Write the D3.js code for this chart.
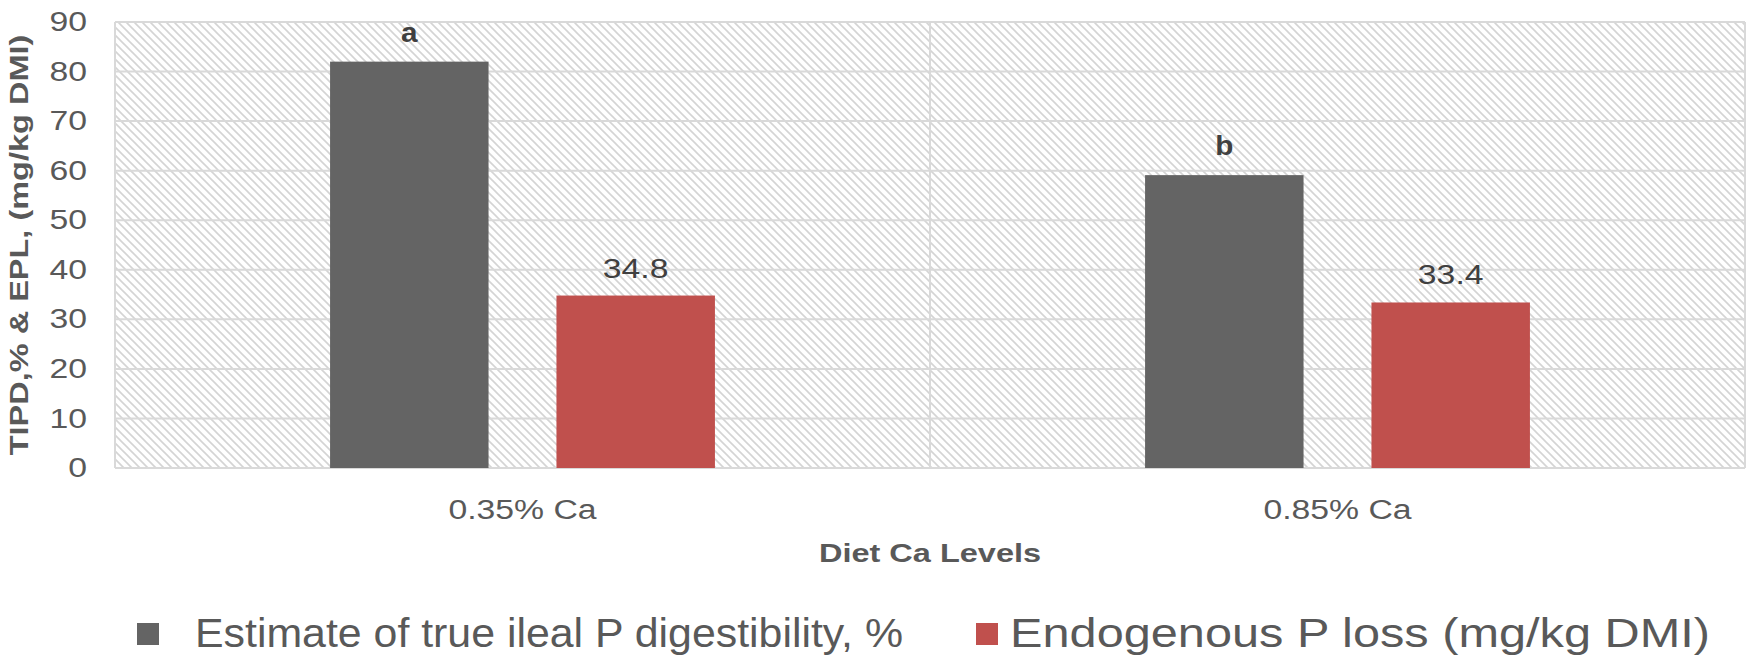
<!DOCTYPE html>
<html lang="en">
<head>
<meta charset="utf-8">
<title>TIPD and EPL by diet Ca level</title>
<script src="https://d3js.org/d3.v7.min.js"></script>
<style>
  body{margin:0;background:#fff;font-family:"Liberation Sans",Arial,sans-serif;}
  svg text{fill:#595959;}
</style>
</head>
<body>
<div id="chart"></div>
<script>
// data
var categories = ["0.35% Ca", "0.85% Ca"];
var seriesNames = ["Estimate of true ileal P digestibility, %", "Endogenous P loss (mg/kg DMI)"];
var tipd = [82.0, 59.1];
var epl = [34.8, 33.4];
var tipdLabels = ["a", "b"];
var eplLabels = ["34.8", "33.4"];
var yTicks = [0, 10, 20, 30, 40, 50, 60, 70, 80, 90];
var colors = ["#646464", "#c0504d"];

var W = 1750, H = 656;
var plotLeft = 115, plotRight = 1745, plotTop = 22, plotBottom = 468;
var stretch = 1.25; // text in the source is drawn wider than Arial

var svg = d3.select("#chart").append("svg")
    .attr("width", W).attr("height", H);

// hatch fill of the plot area
var defs = svg.append("defs");
var pat = defs.append("pattern")
    .attr("id", "hatch")
    .attr("patternUnits", "userSpaceOnUse")
    .attr("width", 8).attr("height", 8);
pat.append("rect").attr("width", 8).attr("height", 8).attr("fill", "#fff");
pat.append("path")
    .attr("d", "M-2,-2 L10,10 M-2,6 L2,10 M6,-2 L10,2")
    .attr("stroke", "#d4d4d4")
    .attr("stroke-width", 1.6);

var y = d3.scaleLinear().domain([0, 90]).range([plotBottom, plotTop]);
var x0 = d3.scaleBand().domain(categories).range([plotLeft, plotRight]);
var x1 = d3.scaleBand().domain([0, 1]).range([0, x0.bandwidth()])
    .paddingInner(0.3).paddingOuter(0.95);

svg.append("rect")
    .attr("x", plotLeft).attr("y", plotTop)
    .attr("width", plotRight - plotLeft).attr("height", plotBottom - plotTop)
    .attr("fill", "url(#hatch)");

// gridlines
svg.append("g").selectAll("line")
    .data(yTicks)
    .enter().append("line")
    .attr("x1", plotLeft).attr("x2", plotRight)
    .attr("y1", function(d){ return y(d); })
    .attr("y2", function(d){ return y(d); })
    .attr("stroke", "#d9d9d9").attr("stroke-width", 2);

var bounds = categories.map(function(c){ return x0(c); }).concat([x0(categories[1]) + x0.bandwidth()]);
svg.append("g").selectAll("line")
    .data(bounds)
    .enter().append("line")
    .attr("x1", function(d){ return d; }).attr("x2", function(d){ return d; })
    .attr("y1", plotTop).attr("y2", plotBottom)
    .attr("stroke", "#d9d9d9").attr("stroke-width", 2);

// widen a text horizontally around its anchor point
function widen(sel, k){
    sel.each(function(){
        var t = d3.select(this);
        var x = +t.attr("x") || 0;
        t.attr("x", x / k).attr("transform", "scale(" + k + ",1)");
    });
}

// y axis
var yAxis = d3.axisLeft(y).tickValues(yTicks).tickSize(0).tickPadding(28);
var gy = svg.append("g")
    .attr("transform", "translate(" + plotLeft + ",0)")
    .call(yAxis);
gy.select(".domain").remove();
gy.selectAll("text")
    .style("font-family", "Liberation Sans, Arial, sans-serif")
    .style("font-size", "27px")
    .attr("fill", "#595959")
    .call(widen, stretch);

// x axis
var xAxis = d3.axisBottom(x0).tickSize(0).tickPadding(32);
var gx = svg.append("g")
    .attr("transform", "translate(0," + plotBottom + ")")
    .call(xAxis);
gx.select(".domain").remove();
gx.selectAll("text")
    .style("font-family", "Liberation Sans, Arial, sans-serif")
    .style("font-size", "27px")
    .attr("fill", "#595959")
    .call(widen, stretch);

// bars
var series = [tipd, epl];
var labels = [tipdLabels, eplLabels];
var labelGap = [20, 18];
series.forEach(function(vals, s){
    var g = svg.append("g");
    g.selectAll("rect")
        .data(vals)
        .enter().append("rect")
        .attr("x", function(d, i){ return x0(categories[i]) + x1(s); })
        .attr("y", function(d){ return y(d); })
        .attr("width", x1.bandwidth())
        .attr("height", function(d){ return y(0) - y(d); })
        .attr("fill", colors[s]);
    g.selectAll("text")
        .data(vals)
        .enter().append("text")
        .attr("x", function(d, i){ return x0(categories[i]) + x1(s) + x1.bandwidth() / 2; })
        .attr("y", function(d){ return y(d) - labelGap[s]; })
        .attr("text-anchor", "middle")
        .style("font-size", "27px")
        .style("font-weight", s === 0 ? "bold" : "normal")
        .style("fill", "#404040")
        .text(function(d, i){ return labels[s][i]; })
        .call(widen, s === 0 ? 1.1 : stretch);
});

// axis titles
svg.append("text")
    .attr("transform", "translate(28," + ((plotTop + plotBottom) / 2) + ") rotate(-90) scale(" + stretch + ",1)")
    .attr("text-anchor", "middle")
    .style("font-size", "26px")
    .style("font-weight", "bold")
    .text("TIPD,% & EPL, (mg/kg DMI)");

svg.append("text")
    .attr("x", (plotLeft + plotRight) / 2)
    .attr("y", 562)
    .attr("text-anchor", "middle")
    .style("font-size", "26px")
    .style("font-weight", "bold")
    .text("Diet Ca Levels")
    .call(widen, stretch);

// legend
var legendX = [137, 976];
var textX = [195, 1010];
var textW = [708, 700];
var lg = svg.append("g").selectAll("g")
    .data(seriesNames)
    .enter().append("g");
lg.append("rect")
    .attr("x", function(d, i){ return legendX[i]; })
    .attr("y", 623)
    .attr("width", 22).attr("height", 22)
    .attr("fill", function(d, i){ return colors[i]; });
lg.append("text")
    .attr("x", function(d, i){ return textX[i]; })
    .attr("y", 647)
    .attr("textLength", function(d, i){ return textW[i]; })
    .attr("lengthAdjust", "spacingAndGlyphs")
    .style("font-size", "40px")
    .text(function(d){ return d; });
</script>
</body>
</html>
